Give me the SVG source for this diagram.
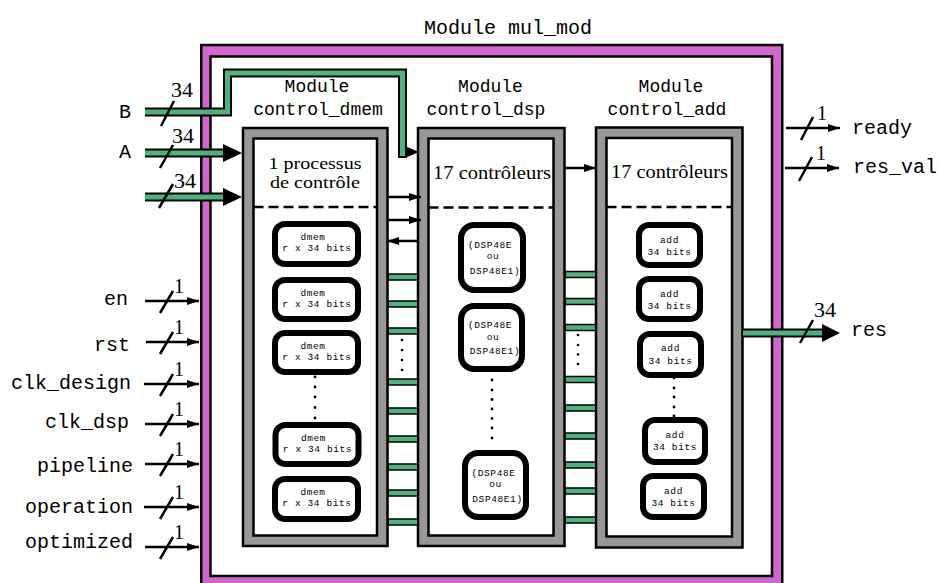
<svg xmlns="http://www.w3.org/2000/svg" width="938" height="583" viewBox="0 0 938 583">
<style>
.mono{font-family:"Liberation Mono","DejaVu Sans Mono",monospace;fill:#000}
.serif{font-family:"Liberation Serif","DejaVu Serif",serif;fill:#000}
.t20{font-size:20px}
.t18{font-size:18px}
.tiny{font-size:9.5px;letter-spacing:0.6px}
.num{font-size:22px}
.one{font-size:20px}
.proc{font-size:19px}
.proc2{font-size:17px}
.outer{fill:#d266ce;stroke:#000;stroke-width:2.5}
.white{fill:#fff;stroke:#000;stroke-width:2.5}
.frame{fill:#9b9797;stroke:#000;stroke-width:2.5}
.dash{stroke:#000;stroke-width:2.5;stroke-dasharray:10 5;fill:none}
.sub{fill:#fff;stroke:#000;stroke-width:6}
.busO{stroke:#000;stroke-width:9;fill:none}
.busI{stroke:#4db37c;stroke-width:5;fill:none}
.barO{stroke:#000;stroke-width:7.5}
.barI{stroke:#4db37c;stroke-width:4.5}
.wire{stroke:#000;stroke-width:2.5;fill:none}
.slash{stroke:#000;stroke-width:2.5}
.head{fill:#000}
</style>
<defs>
<marker id="ah" viewBox="0 0 12 8" refX="12" refY="4" markerWidth="12" markerHeight="8" markerUnits="userSpaceOnUse" orient="auto">
<path d="M0,0 L12,4 L0,8 z" fill="#000"/>
</marker>
</defs>

<text class="mono t20" x="508" y="34" text-anchor="middle">Module mul_mod</text>

<g id="mul_mod">
<rect class="outer" x="201.25" y="45" width="581" height="560"/>
<rect class="white" x="210.5" y="56.5" width="561.5" height="519.5"/>
</g>

<g id="control_dmem">
<text class="mono t18" x="317" y="92" text-anchor="middle">Module</text>
<text class="mono t18" x="318" y="115" text-anchor="middle">control_dmem</text>
<rect class="frame" x="243" y="128" width="144.5" height="418"/>
<rect class="white" x="253.5" y="138.5" width="123.5" height="397"/>
<text class="serif proc2" x="315" y="169" text-anchor="middle" textLength="93" lengthAdjust="spacingAndGlyphs">1 processus</text>
<text class="serif proc2" x="315" y="188" text-anchor="middle" textLength="90" lengthAdjust="spacingAndGlyphs">de contrôle</text>
<line class="dash" x1="253.5" y1="207" x2="377" y2="207"/>
</g>
<g id="dmem1"><rect class="sub" x="275" y="224" width="83" height="40" rx="10"/><text class="mono tiny" text-anchor="middle"><tspan x="313" y="239.5">dmem</tspan><tspan x="317" y="250.5">r x 34 bits</tspan></text></g>
<g id="dmem2"><rect class="sub" x="275" y="280" width="83" height="39" rx="10"/><text class="mono tiny" text-anchor="middle"><tspan x="313" y="295.5">dmem</tspan><tspan x="317" y="306.5">r x 34 bits</tspan></text></g>
<g id="dmem3"><rect class="sub" x="275" y="333" width="83" height="39" rx="10"/><text class="mono tiny" text-anchor="middle"><tspan x="313" y="348.5">dmem</tspan><tspan x="317" y="359.5">r x 34 bits</tspan></text></g>
<g id="dmem4"><rect class="sub" x="275.5" y="425" width="83" height="39" rx="10"/><text class="mono tiny" text-anchor="middle"><tspan x="313.5" y="440.5">dmem</tspan><tspan x="317.5" y="451.5">r x 34 bits</tspan></text></g>
<g id="dmem5"><rect class="sub" x="275" y="479" width="83" height="40" rx="10"/><text class="mono tiny" text-anchor="middle"><tspan x="313" y="494.5">dmem</tspan><tspan x="317" y="505.5">r x 34 bits</tspan></text></g>
<g id="dmem_dots" fill="#000"><circle cx="315" cy="377" r="1.4"/><circle cx="315" cy="387" r="1.4"/><circle cx="315" cy="397" r="1.4"/><circle cx="315" cy="407.5" r="1.4"/><circle cx="315" cy="418" r="1.4"/></g>

<g id="control_dsp">
<text class="mono t18" x="490.5" y="92" text-anchor="middle">Module</text>
<text class="mono t18" x="486" y="115" text-anchor="middle">control_dsp</text>
<rect class="frame" x="418" y="128" width="146.5" height="418"/>
<rect class="white" x="428.5" y="138.5" width="125" height="397"/>
<text class="serif proc" x="492" y="179" text-anchor="middle" textLength="118" lengthAdjust="spacingAndGlyphs">17 contrôleurs</text>
<line class="dash" x1="428.5" y1="207.5" x2="553.5" y2="207.5"/>
</g>
<g id="dsp1"><rect class="sub" x="461" y="225" width="62" height="65" rx="13"/><text class="mono tiny" text-anchor="middle"><tspan x="490" y="248">(DSP48E</tspan><tspan x="493" y="259">ou</tspan><tspan x="495" y="274">DSP48E1)</tspan></text></g>
<g id="dsp2"><rect class="sub" x="461" y="306" width="61" height="63" rx="13"/><text class="mono tiny" text-anchor="middle"><tspan x="490" y="328">(DSP48E</tspan><tspan x="493" y="339.5">ou</tspan><tspan x="495" y="354">DSP48E1)</tspan></text></g>
<g id="dsp3"><rect class="sub" x="465" y="453" width="61" height="64" rx="13"/><text class="mono tiny" text-anchor="middle"><tspan x="493.5" y="476">(DSP48E</tspan><tspan x="495.5" y="487">ou</tspan><tspan x="497.5" y="502">DSP48E1)</tspan></text></g>
<g id="dsp_dots" fill="#000"><circle cx="492" cy="380" r="1.4"/><circle cx="492" cy="390" r="1.4"/><circle cx="492" cy="399.5" r="1.4"/><circle cx="492" cy="409" r="1.4"/><circle cx="492" cy="418.5" r="1.4"/><circle cx="492" cy="428" r="1.4"/><circle cx="492" cy="438" r="1.4"/></g>

<g id="control_add">
<text class="mono t18" x="671" y="92" text-anchor="middle">Module</text>
<text class="mono t18" x="667" y="115" text-anchor="middle">control_add</text>
<rect class="frame" x="596" y="127.5" width="146.5" height="420"/>
<rect class="white" x="606.5" y="138" width="125.5" height="398.5"/>
<text class="serif proc" x="669.5" y="178" text-anchor="middle" textLength="117" lengthAdjust="spacingAndGlyphs">17 contrôleurs</text>
<line class="dash" x1="606.5" y1="207" x2="732" y2="207"/>
</g>
<g id="add1"><rect class="sub" x="639" y="225" width="61" height="40" rx="10"/><text class="mono tiny" text-anchor="middle"><tspan x="669.5" y="243">add</tspan><tspan x="669.5" y="255">34 bits</tspan></text></g>
<g id="add2"><rect class="sub" x="639" y="279" width="61" height="40" rx="10"/><text class="mono tiny" text-anchor="middle"><tspan x="669.5" y="297">add</tspan><tspan x="669.5" y="309">34 bits</tspan></text></g>
<g id="add3"><rect class="sub" x="640" y="334" width="61" height="41" rx="10"/><text class="mono tiny" text-anchor="middle"><tspan x="670.5" y="351">add</tspan><tspan x="670.5" y="364">34 bits</tspan></text></g>
<g id="add4"><rect class="sub" x="645" y="420" width="60" height="42" rx="10"/><text class="mono tiny" text-anchor="middle"><tspan x="675" y="438">add</tspan><tspan x="675" y="450">34 bits</tspan></text></g>
<g id="add5"><rect class="sub" x="643" y="476" width="61" height="41" rx="10"/><text class="mono tiny" text-anchor="middle"><tspan x="673.5" y="494">add</tspan><tspan x="673.5" y="506">34 bits</tspan></text></g>
<g id="add_dots" fill="#000"><circle cx="674" cy="378" r="1.4"/><circle cx="674" cy="388" r="1.4"/><circle cx="674" cy="397" r="1.4"/><circle cx="674" cy="407" r="1.4"/><circle cx="674" cy="416" r="1.4"/></g>

<g id="ports" class="mono t20">
<text x="131" y="118" text-anchor="end">B</text>
<text x="131" y="158" text-anchor="end">A</text>
<text x="128" y="305" text-anchor="end">en</text>
<text x="130" y="351" text-anchor="end">rst</text>
<text x="131" y="389" text-anchor="end">clk_design</text>
<text x="129" y="428" text-anchor="end">clk_dsp</text>
<text x="133" y="472" text-anchor="end">pipeline</text>
<text x="133" y="513" text-anchor="end">operation</text>
<text x="133" y="548" text-anchor="end">optimized</text>
<text x="852" y="134">ready</text>
<text x="853" y="173">res_val</text>
<text x="851" y="336">res</text>
</g>

<g id="connectors">
<path class="busO" d="M145,112 H227.5 V73 H402.5 V158"/>
<path class="busI" d="M145,112 H227.5 V73 H402.5 V156"/>
<polygon class="head" points="405,146 419,152 405,158"/>
<line class="busO" x1="145" y1="153" x2="226" y2="153"/>
<line class="busI" x1="145" y1="153" x2="226" y2="153"/>
<polygon class="head" points="223,144 242,153 223,162"/>
<line class="busO" x1="145" y1="197" x2="226" y2="197"/>
<line class="busI" x1="145" y1="197" x2="226" y2="197"/>
<polygon class="head" points="223,188 242,197 223,206"/>
<line class="busO" x1="743" y1="333" x2="824" y2="333"/>
<line class="busI" x1="743" y1="333" x2="824" y2="333"/>
<polygon class="head" points="822,324 840,333 822,342"/>

<line class="slash" x1="161" y1="126" x2="174" y2="101"/>
<line class="slash" x1="160" y1="168" x2="173" y2="145"/>
<line class="slash" x1="159" y1="208" x2="173" y2="184"/>
<line class="slash" x1="800" y1="343" x2="813" y2="320"/>
<g class="serif num">
<text x="171" y="97">34</text>
<text x="172" y="143">34</text>
<text x="174" y="188">34</text>
<text x="814" y="317">34</text>
</g>

<g>
<line class="wire" x1="145" y1="301" x2="199" y2="301" marker-end="url(#ah)"/>
<line class="wire" x1="146" y1="342" x2="199" y2="342" marker-end="url(#ah)"/>
<line class="wire" x1="144" y1="384" x2="199" y2="384" marker-end="url(#ah)"/>
<line class="wire" x1="145" y1="424" x2="199" y2="424" marker-end="url(#ah)"/>
<line class="wire" x1="145" y1="464" x2="199" y2="464" marker-end="url(#ah)"/>
<line class="wire" x1="144" y1="507" x2="199" y2="507" marker-end="url(#ah)"/>
<line class="wire" x1="145" y1="547" x2="199" y2="547" marker-end="url(#ah)"/>
<line class="slash" x1="160" y1="313" x2="173" y2="291"/>
<line class="slash" x1="160" y1="354" x2="173" y2="332"/>
<line class="slash" x1="160" y1="396" x2="173" y2="374"/>
<line class="slash" x1="160" y1="436" x2="173" y2="414"/>
<line class="slash" x1="160" y1="476" x2="173" y2="454"/>
<line class="slash" x1="160" y1="519" x2="173" y2="497"/>
<line class="slash" x1="160" y1="559" x2="173" y2="537"/>
</g>
<g class="serif one">
<text x="174" y="293">1</text>
<text x="174" y="334">1</text>
<text x="174" y="376">1</text>
<text x="174" y="416">1</text>
<text x="174" y="456">1</text>
<text x="174" y="499">1</text>
<text x="174" y="539">1</text>
<text x="817" y="120">1</text>
<text x="816" y="160">1</text>
</g>
<line class="wire" x1="786" y1="128" x2="840" y2="128" marker-end="url(#ah)"/>
<line class="wire" x1="785" y1="168" x2="839" y2="168" marker-end="url(#ah)"/>
<line class="slash" x1="801" y1="140" x2="813" y2="117"/>
<line class="slash" x1="799" y1="181" x2="812" y2="157"/>

<line class="wire" x1="388" y1="197" x2="421" y2="197" marker-end="url(#ah)"/>
<line class="wire" x1="388" y1="220" x2="421" y2="220" marker-end="url(#ah)"/>
<line class="wire" x1="418" y1="241" x2="387" y2="241" marker-end="url(#ah)"/>
<line class="wire" x1="565" y1="168" x2="596" y2="168" marker-end="url(#ah)"/>

<g class="barO">
<line x1="388" y1="277" x2="418" y2="277"/><line x1="388" y1="304" x2="418" y2="304"/><line x1="388" y1="331" x2="418" y2="331"/>
<line x1="388" y1="382" x2="418" y2="382"/><line x1="388" y1="411" x2="418" y2="411"/><line x1="388" y1="439" x2="418" y2="439"/>
<line x1="388" y1="467" x2="418" y2="467"/><line x1="388" y1="493" x2="418" y2="493"/><line x1="388" y1="522" x2="418" y2="522"/>
<line x1="565" y1="274.5" x2="596" y2="274.5"/><line x1="565" y1="301.5" x2="596" y2="301.5"/><line x1="565" y1="327.5" x2="596" y2="327.5"/>
<line x1="565" y1="379.5" x2="596" y2="379.5"/><line x1="565" y1="408" x2="596" y2="408"/><line x1="565" y1="436" x2="596" y2="436"/>
<line x1="565" y1="465" x2="596" y2="465"/><line x1="565" y1="491" x2="596" y2="491"/><line x1="565" y1="520" x2="596" y2="520"/>
</g>
<g class="barI">
<line x1="389" y1="277" x2="417" y2="277"/><line x1="389" y1="304" x2="417" y2="304"/><line x1="389" y1="331" x2="417" y2="331"/>
<line x1="389" y1="382" x2="417" y2="382"/><line x1="389" y1="411" x2="417" y2="411"/><line x1="389" y1="439" x2="417" y2="439"/>
<line x1="389" y1="467" x2="417" y2="467"/><line x1="389" y1="493" x2="417" y2="493"/><line x1="389" y1="522" x2="417" y2="522"/>
<line x1="566" y1="274.5" x2="595" y2="274.5"/><line x1="566" y1="301.5" x2="595" y2="301.5"/><line x1="566" y1="327.5" x2="595" y2="327.5"/>
<line x1="566" y1="379.5" x2="595" y2="379.5"/><line x1="566" y1="408" x2="595" y2="408"/><line x1="566" y1="436" x2="595" y2="436"/>
<line x1="566" y1="465" x2="595" y2="465"/><line x1="566" y1="491" x2="595" y2="491"/><line x1="566" y1="520" x2="595" y2="520"/>
</g>
<g fill="#000">
<circle cx="402" cy="340" r="1.3"/><circle cx="402" cy="350" r="1.3"/><circle cx="402" cy="360" r="1.3"/><circle cx="402" cy="370" r="1.3"/>
<circle cx="578" cy="335" r="1.3"/><circle cx="578" cy="345" r="1.3"/><circle cx="578" cy="354.5" r="1.3"/><circle cx="578" cy="364" r="1.3"/>
</g>
</g>
</svg>
